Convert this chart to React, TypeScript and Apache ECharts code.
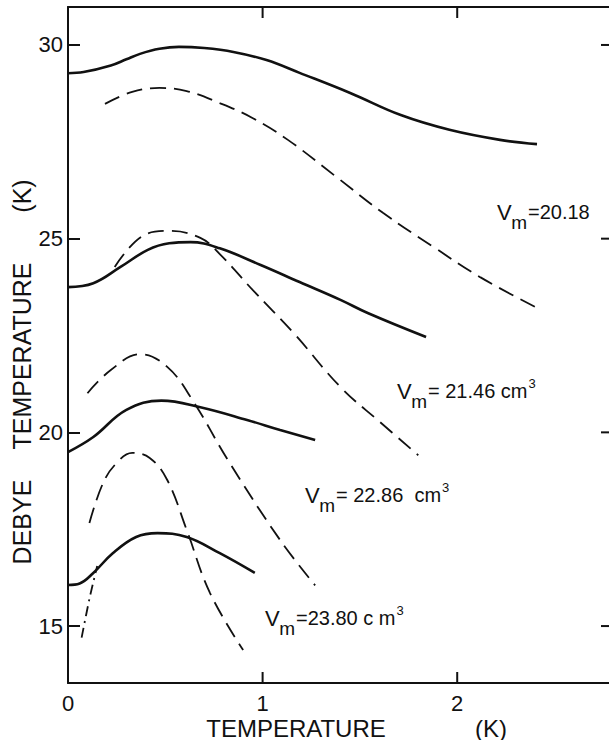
import React, { useEffect, useRef } from "react";
import * as echarts from "echarts";

// ---- data ----
const xTicks = [0, 1, 2];
const yTicks = [15, 20, 25, 30];

// Vm = 20.18
const s1x = [0, 0.08, 0.22, 0.3, 0.37, 0.47, 0.57, 0.7, 0.85, 1.02, 1.19, 1.45, 1.71, 1.96, 2.22, 2.41];
const s1y = [29.27, 29.3, 29.47, 29.63, 29.77, 29.9, 29.95, 29.92, 29.82, 29.61, 29.28, 28.76, 28.19, 27.81, 27.55, 27.44];
const d1x = [0.19, 0.33, 0.47, 0.61, 0.78, 0.95, 1.13, 1.38, 1.62, 1.88, 2.12, 2.4];
const d1y = [28.48, 28.79, 28.89, 28.81, 28.5, 28.11, 27.55, 26.59, 25.66, 24.78, 24.0, 23.24];

// Vm = 21.46
const s2x = [0, 0.13, 0.27, 0.41, 0.52, 0.63, 0.78, 0.99, 1.19, 1.4, 1.54, 1.84];
const s2y = [23.75, 23.85, 24.27, 24.71, 24.88, 24.91, 24.75, 24.32, 23.88, 23.42, 23.08, 22.46];
const d2x = [0.24, 0.39, 0.52, 0.68, 0.78, 0.95, 1.16, 1.4, 1.6, 1.8];
const d2y = [24.27, 25.09, 25.2, 25.02, 24.6, 23.67, 22.56, 21.17, 20.28, 19.41];

// Vm = 22.86
const s3x = [0, 0.13, 0.3, 0.48, 0.68, 0.92, 1.09, 1.27];
const s3y = [19.49, 19.88, 20.58, 20.82, 20.65, 20.32, 20.06, 19.8];
const d3x = [0.1, 0.22, 0.37, 0.51, 0.64, 0.82, 1.09, 1.27];
const d3y = [21.01, 21.61, 22.02, 21.69, 20.83, 19.3, 17.22, 16.05];

// Vm = 23.80
const s4x = [0, 0.06, 0.13, 0.23, 0.35, 0.46, 0.61, 0.78, 0.96];
const s4y = [16.06, 16.1, 16.37, 16.88, 17.3, 17.4, 17.3, 16.88, 16.37];
const d4x = [0.11, 0.18, 0.25, 0.33, 0.42, 0.51, 0.61, 0.73, 0.9];
const d4y = [17.66, 18.69, 19.21, 19.47, 19.34, 18.77, 17.48, 15.85, 14.38];
const dd4x = [0.07, 0.11, 0.15];
const dd4y = [14.7, 15.7, 16.55];

// annotation texts
const vmValues = ["=20.18", "= 21.46 cm", "= 22.86  cm", "=23.80 c m"];
const vmUnitSup = ["", "3", "3", "3"];

const X_MIN = 0;
const X_MAX = 2.78;
const Y_MIN = 13.53;
const Y_MAX = 30.98;

const pair = (xs: number[], ys: number[]) => xs.map((x, i) => [x, ys[i]]);

const FONT = "Liberation Sans";
const INK = "#111";

function solid(name: string, xs: number[], ys: number[]) {
  return {
    name,
    type: "line",
    data: pair(xs, ys),
    smooth: 0.4,
    showSymbol: false,
    lineStyle: { color: INK, width: 2.6, type: "solid" },
  };
}
function dashed(name: string, xs: number[], ys: number[]) {
  return {
    name,
    type: "line",
    data: pair(xs, ys),
    smooth: 0.4,
    showSymbol: false,
    lineStyle: { color: INK, width: 1.8, type: [16, 8] },
  };
}

function txt(text: string, x: number, y: number, size: number, extra: any = {}) {
  return {
    type: "text",
    x,
    y,
    style: {
      text,
      fontFamily: FONT,
      fontSize: size,
      fill: INK,
      align: "left",
      verticalAlign: "middle",
      ...extra,
    },
  };
}

function tick(x1: number, y1: number, x2: number, y2: number) {
  return {
    type: "line",
    shape: { x1, y1, x2, y2 },
    style: { stroke: INK, lineWidth: 2 },
    z: 10,
  };
}

let measureCtx: CanvasRenderingContext2D | null = null;
function measure(text: string, size: number) {
  if (!measureCtx) measureCtx = document.createElement("canvas").getContext("2d");
  if (!measureCtx) return text.length * size * 0.55;
  measureCtx.font = `${size}px "${FONT}"`;
  return measureCtx.measureText(text).width;
}

// label anchor: left of "V" and the centre of the capital letters
const labelAnchors = [
  [497, 211],
  [397, 390],
  [305, 494],
  [265, 617],
];

function vmLabel(i: number) {
  const [x0, yc] = labelAnchors[i];
  const out: any[] = [];
  let x = x0;
  out.push(txt("V", x, yc + 1, 22));
  x += measure("V", 22) - 0.5;
  out.push(txt("m", x, yc + 11, 19));
  x += measure("m", 19) + 1;
  out.push(txt(vmValues[i], x, yc + 1, 20));
  x += measure(vmValues[i], 20) + 1;
  if (vmUnitSup[i]) out.push(txt(vmUnitSup[i], x, yc - 7, 13));
  return out;
}

export default function App() {
  const ref = useRef<HTMLDivElement>(null);
  useEffect(() => {
    document.body.style.margin = "0";
    const chart = echarts.init(ref.current!, undefined, { renderer: "svg" });
    const axisFont = { fontFamily: FONT, fontSize: 22, color: INK };
    const labels: any[] = [];
    for (let i = 0; i < vmValues.length; i++) labels.push(...vmLabel(i));
    const baseGraphic = [
      // axis titles
      txt("TEMPERATURE", 296, 728, 24, { align: "center" }),
      txt("(K)", 491, 728, 24, { align: "center" }),
      { ...txt("DEBYE", 22, 522, 25, { align: "center" }), rotation: Math.PI / 2 },
      { ...txt("TEMPERATURE", 22, 356, 25, { align: "center" }), rotation: Math.PI / 2 },
      { ...txt("(K)", 22, 196, 25, { align: "center" }), rotation: Math.PI / 2 },
      ...labels,
    ];
    chart.setOption({
      animation: false,
      backgroundColor: "#fff",
      grid: { left: 68, top: 7, right: 0, bottom: 57, containLabel: false },
      xAxis: [
        {
          type: "value",
          position: "bottom",
          min: X_MIN,
          max: X_MAX,
          axisLine: { show: true, lineStyle: { color: INK, width: 2 } },
          axisTick: { show: false },
          axisLabel: { show: true, customValues: xTicks, margin: 9, ...axisFont },
          splitLine: { show: false },
        },
        {
          type: "value",
          position: "top",
          min: X_MIN,
          max: X_MAX,
          axisLine: { show: true, lineStyle: { color: INK, width: 2 } },
          axisTick: { show: false },
          axisLabel: { show: false },
          splitLine: { show: false },
        },
      ],
      yAxis: [
        {
          type: "value",
          position: "left",
          min: Y_MIN,
          max: Y_MAX,
          axisLine: { show: true, lineStyle: { color: INK, width: 2 } },
          axisTick: { show: true, inside: true, length: 12, customValues: yTicks, lineStyle: { color: INK, width: 2 } },
          axisLabel: { show: true, customValues: yTicks, margin: 5, ...axisFont },
          splitLine: { show: false },
        },
        {
          type: "value",
          position: "right",
          min: Y_MIN,
          max: Y_MAX,
          axisLine: { show: false },
          axisTick: { show: false },
          axisLabel: { show: false },
          splitLine: { show: false },
        },
      ],
      series: [
        solid("Vm 20.18 solid", s1x, s1y),
        dashed("Vm 20.18 dashed", d1x, d1y),
        solid("Vm 21.46 solid", s2x, s2y),
        dashed("Vm 21.46 dashed", d2x, d2y),
        solid("Vm 22.86 solid", s3x, s3y),
        dashed("Vm 22.86 dashed", d3x, d3y),
        solid("Vm 23.80 solid", s4x, s4y),
        dashed("Vm 23.80 dashed", d4x, d4y),
        {
          name: "Vm 23.80 dash-dot",
          type: "line",
          data: pair(dd4x, dd4y),
          smooth: 0.3,
          showSymbol: false,
          lineStyle: { color: INK, width: 1.8, type: [10, 5, 2, 5] },
        },
      ],
      graphic: baseGraphic,
    });

    // tick marks on the bottom, top and right frame, placed through the axes' scales
    const yBottom = chart.convertToPixel({ yAxisIndex: 0 }, Y_MIN) as number;
    const yTop = chart.convertToPixel({ yAxisIndex: 0 }, Y_MAX) as number;
    const xRight = chart.convertToPixel({ xAxisIndex: 0 }, X_MAX) as number;
    const ticks: any[] = [];
    xTicks
      .filter((v) => v > X_MIN)
      .forEach((v) => {
        const px = chart.convertToPixel({ xAxisIndex: 0 }, v) as number;
        ticks.push(tick(px, yBottom, px, yBottom - 11));
        ticks.push(tick(px, yTop, px, yTop + 11));
      });
    yTicks.forEach((v) => {
      const py = chart.convertToPixel({ yAxisIndex: 0 }, v) as number;
      ticks.push(tick(xRight - 8, py, xRight, py));
    });
    chart.setOption({ graphic: [...baseGraphic, ...ticks] });

    return () => chart.dispose();
  }, []);
  return <div ref={ref} style={{ width: 609, height: 740 }} />;
}
